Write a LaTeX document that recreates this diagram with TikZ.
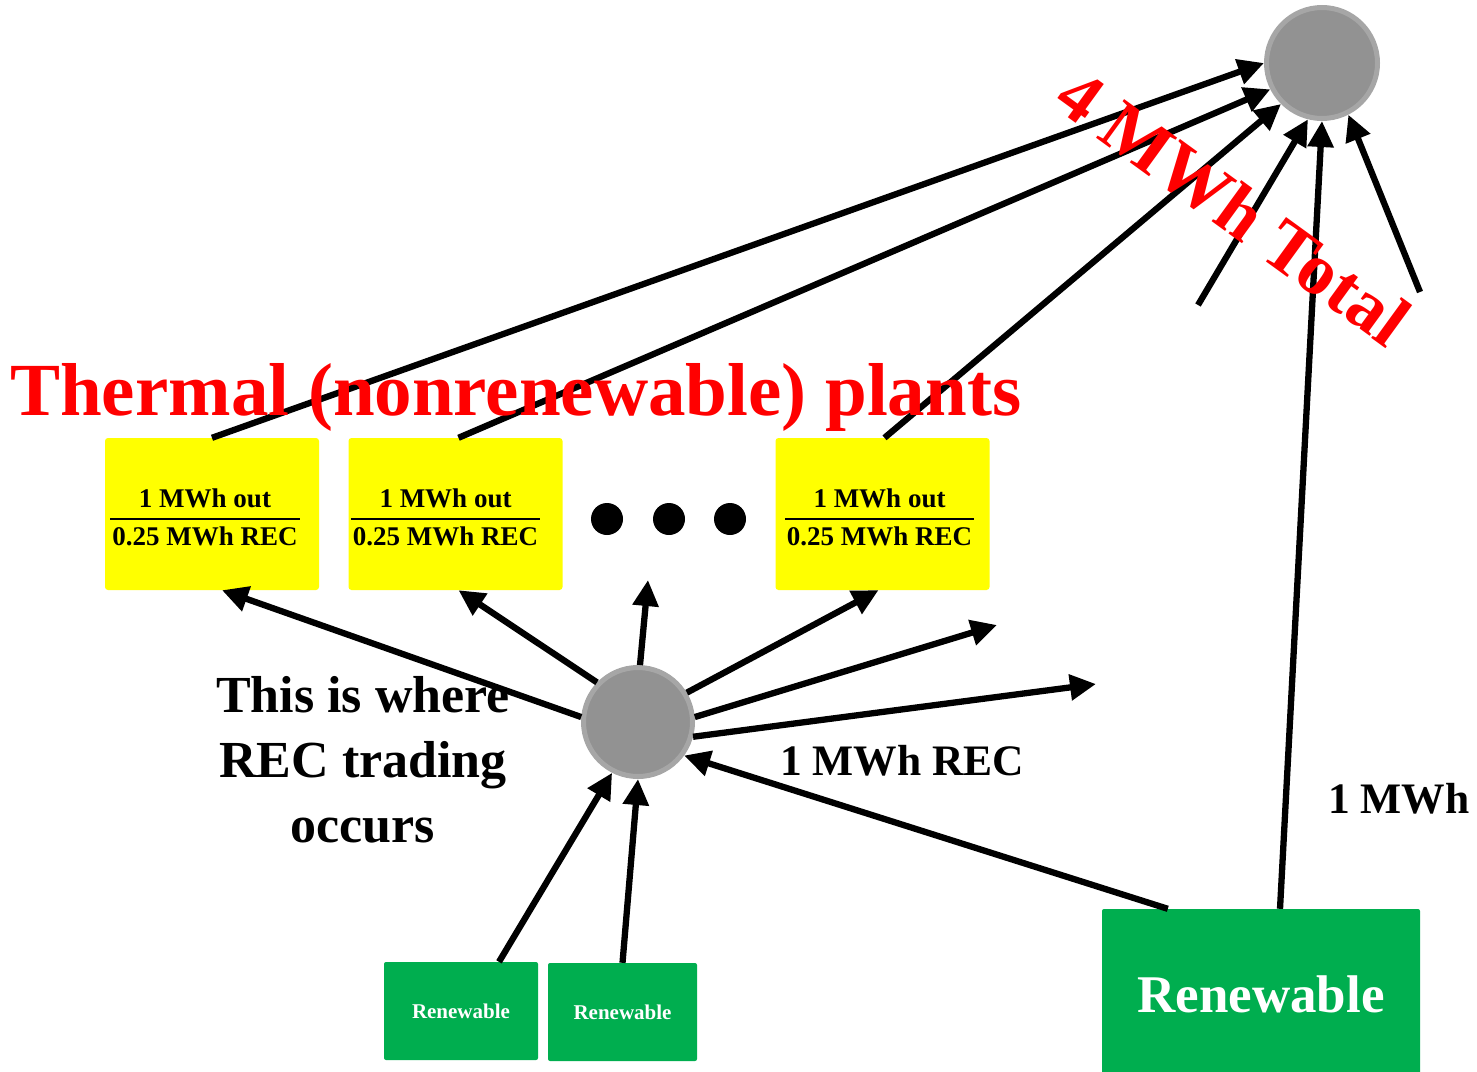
\documentclass[tikz,border=0pt]{standalone}
\usepackage{fontspec}
\setmainfont{Liberation Serif}
\usetikzlibrary{arrows.meta}
\definecolor{plantyellow}{HTML}{FFFF00}
\definecolor{renewgreen}{HTML}{00AE4F}
\definecolor{hubgray}{HTML}{929292}
\definecolor{hubring}{HTML}{A6A6A6}
\definecolor{titlered}{HTML}{FF0000}
\newcommand{\recfrac}{{\fontsize{27}{32.4}\selectfont\bfseries
  \setlength\arrayrulewidth{1.5pt}\renewcommand\arraystretch{1.13}%
  \begin{tabular}{@{\hspace{2pt}}c@{\hspace{2pt}}}1 MWh out\\\hline 0.25 MWh REC\end{tabular}}}
\begin{document}
\begin{tikzpicture}[x=1pt,y=-1pt,
  flow/.style={line width=6.3pt,-{Triangle[length=26pt,width=25pt]}},
  hub/.style={circle,fill=hubgray,draw=hubring,line width=5pt,inner sep=0pt},
  plant/.style={rectangle,fill=plantyellow,rounded corners=3pt,
    minimum width=214pt,minimum height=152pt,inner sep=0pt},
  greenbox/.style={rectangle,fill=renewgreen,rounded corners=2pt,inner sep=0pt,
    text=white,font=\bfseries},
  dot/.style={circle,fill=black,minimum size=32pt,inner sep=0pt},
  redtitle/.style={text=titlered,inner sep=0pt,font=\bfseries},
  label/.style={inner sep=0pt,font=\bfseries\fontsize{43.5}{52}\selectfont}
]
\useasboundingbox (0,0) rectangle (1477,1071);

% hubs
\node[hub,minimum size=111pt] (topc) at (1322,63) {};
\node[hub,minimum size=109pt] (midc) at (638,722) {};

% thermal plants
\node[plant] (b1) at (212,514) {};
\node[plant] (b2) at (455.5,514) {};
\node[plant] (b3) at (882.5,514) {};
\node[inner sep=0pt] (t1) at ([xshift=-7pt,yshift=-5pt]b1.center) {\recfrac};
\node[inner sep=0pt] (t2) at ([xshift=-10pt,yshift=-5pt]b2.center) {\recfrac};
\node[inner sep=0pt] (t3) at ([xshift=-3pt,yshift=-5pt]b3.center) {\recfrac};

% ellipsis dots
\node[dot] (d1) at (607,519) {};
\node[dot] (d2) at (669,519) {};
\node[dot] (d3) at (730,519) {};

% renewable plants
\node[greenbox,minimum width=154pt,minimum height=98pt,
  font=\bfseries\fontsize{21}{25}\selectfont] (ga) at (461,1011) {Renewable};
\node[greenbox,minimum width=149pt,minimum height=98pt,
  font=\bfseries\fontsize{21}{25}\selectfont] (gb) at (622.5,1012) {Renewable};
\node[greenbox,minimum width=318pt,minimum height=171pt,
  font=\bfseries\fontsize{53}{60}\selectfont] (big) at (1261,994.5) {Renewable};

% loose arrow ends
\coordinate (l1) at (1198,305);
\coordinate (l2) at (1420,292);
\coordinate (up) at (648,580);
\coordinate (o1) at (997,625);
\coordinate (o2) at (1096,684);

% flows into the top hub
\draw[flow] (b1.north) -- (topc.180);
\draw[flow] ([xshift=3pt]b2.north) -- (topc.207);
\draw[flow] ([xshift=2pt]b3.north) -- (topc.225);
\draw[flow] (l1) -- (topc.256);
\draw[flow] ([xshift=19pt]big.north) -- (topc.270);
\draw[flow] (l2) -- (topc.297);

% flows out of the trading hub
\draw[flow] (midc.175) -- ([xshift=10pt]b1.south);
\draw[flow] (midc.136) -- ([xshift=3pt]b2.south);
\draw[flow] (midc.88) -- (up);
\draw[flow] (midc.31) -- ([xshift=-4pt]b3.south);
\draw[flow] (midc.5) -- (o1);
\draw[flow] (midc.-15) -- (o2);

% flows into the trading hub
\draw[flow] ([xshift=66pt]big.north west) -- (midc.-36);
\draw[flow] ([xshift=38pt]ga.north) -- (midc.243);
\draw[flow] (gb.north) -- (midc.270);

% texts
\node[redtitle,anchor=base west,font=\bfseries\fontsize{75}{80}\selectfont]
  (title) at (10,415) {Thermal (nonrenewable) plants};
\node[redtitle,anchor=base,rotate=-36,font=\bfseries\fontsize{73}{80}\selectfont]
  (total) at (1219,227) {4 MWh Total};
\node[inner sep=0pt,anchor=north,align=center,font=\bfseries\fontsize{52}{65}\selectfont]
  (where) at (363,676) {This is where\\REC trading\\occurs};
\node[label,anchor=base west] (rec) at (780,775) {1 MWh REC};
\node[label,anchor=base west] (mwh) at (1328,813) {1 MWh};
\end{tikzpicture}
\end{document}
